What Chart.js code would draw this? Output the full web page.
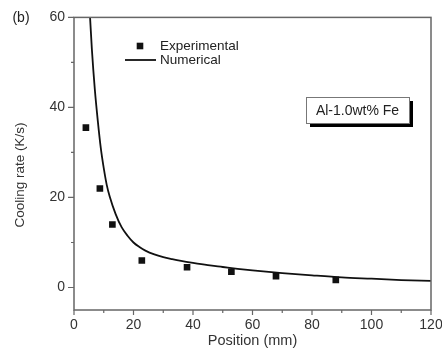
<!DOCTYPE html>
<html>
<head>
<meta charset="utf-8">
<script src="https://cdn.jsdelivr.net/npm/chart.js@4.4.1/dist/chart.umd.min.js"></script>
<style>
  html, body { margin: 0; padding: 0; background: #fff; }
  #wrap { width: 442px; height: 354px; position: relative; }
</style>
</head>
<body>
<div id="wrap"><canvas id="coolingChart"></canvas></div>
<script>
// measured cooling rate along the casting
const expPosition = [4, 8.7, 12.9, 22.8, 38, 52.9, 67.9, 88];
const expRate = [35.5, 22, 14, 6, 4.5, 3.5, 2.5, 1.7];

// simulated cooling rate
const numPosition = [5.4, 6, 7, 8, 9, 10, 11, 12, 14, 16, 18, 20, 22, 24, 27, 30, 33, 36, 40, 45, 50, 55, 60, 70, 80, 90, 100, 110, 120];
const numRate = [60, 53, 44, 37, 31, 26.5, 22.8, 20.2, 16.3, 13.4, 11.5, 10.0, 9.0, 8.2, 7.35, 6.75, 6.3, 5.9, 5.45, 4.95, 4.55, 4.15, 3.8, 3.2, 2.7, 2.25, 1.95, 1.65, 1.45];

const xTicks = [0, 20, 40, 60, 80, 100, 120];
const yTicks = [0, 20, 40, 60];

const FONT = "'Liberation Sans', Arial, sans-serif";

// axis frame, outward tick marks, legend, labels and the alloy tag
const decorations = {
    id: "decorations",
    afterDraw(chart) {
        const ctx = chart.ctx;
        const area = chart.chartArea;
        const xs = chart.scales.x;
        const ys = chart.scales.y;

        ctx.save();
        ctx.strokeStyle = "#666";
        ctx.lineWidth = 1.5;
        ctx.strokeRect(area.left, area.top, area.right - area.left, area.bottom - area.top);

        // ticks: major every 20, minor every 10
        ctx.lineWidth = 1.2;
        ctx.beginPath();
        for (let v = 0; v <= 120; v += 10) {
            const px = xs.getPixelForValue(v);
            const len = v % 20 === 0 ? 5 : 3;
            ctx.moveTo(px, area.bottom);
            ctx.lineTo(px, area.bottom + len);
        }
        for (let v = 0; v <= 60; v += 10) {
            const py = ys.getPixelForValue(v);
            const len = v % 20 === 0 ? 6 : 3;
            ctx.moveTo(area.left, py);
            ctx.lineTo(area.left - len, py);
        }
        ctx.stroke();

        // panel letter
        ctx.fillStyle = "#222";
        ctx.font = "14px " + FONT;
        ctx.textAlign = "center";
        ctx.textBaseline = "middle";
        ctx.fillText("(b)", 21, 18);

        // y axis title
        ctx.save();
        ctx.translate(20, 175);
        ctx.rotate(-Math.PI / 2);
        ctx.font = "13.5px " + FONT;
        ctx.fillStyle = "#333";
        ctx.fillText("Cooling rate (K/s)", 0, 0);
        ctx.restore();

        // legend
        ctx.fillStyle = "#111";
        ctx.fillRect(140 - 3.3, 46 - 3.3, 6.6, 6.6);
        ctx.strokeStyle = "#111";
        ctx.lineWidth = 1.8;
        ctx.beginPath();
        ctx.moveTo(125, 60);
        ctx.lineTo(156, 60);
        ctx.stroke();
        ctx.font = "13.5px " + FONT;
        ctx.fillStyle = "#222";
        ctx.textAlign = "left";
        ctx.fillText("Experimental", 160, 46);
        ctx.fillText("Numerical", 160, 60);

        // alloy tag with drop shadow
        const bx = 306, by = 97, bw = 103, bh = 26;
        ctx.fillStyle = "#000";
        ctx.fillRect(bx + 4, by + 4, bw, bh);
        ctx.fillStyle = "#fff";
        ctx.fillRect(bx, by, bw, bh);
        ctx.strokeStyle = "#777";
        ctx.lineWidth = 1;
        ctx.strokeRect(bx + 0.5, by + 0.5, bw, bh);
        ctx.fillStyle = "#222";
        ctx.font = "14px " + FONT;
        ctx.textAlign = "center";
        ctx.fillText("Al-1.0wt% Fe", bx + bw / 2, by + bh / 2 + 1);
        ctx.restore();
    }
};

document.addEventListener("DOMContentLoaded", function () {
    const canvas = document.getElementById("coolingChart");

    const expPoints = expPosition.map((x, i) => ({ x: x, y: expRate[i] }));
    const numPoints = numPosition.map((x, i) => ({ x: x, y: numRate[i] }));

    new Chart(canvas, {
        type: "scatter",
        data: {
            datasets: [{
                label: "Experimental",
                data: expPoints,
                pointStyle: "rect",
                pointRadius: 4.7,
                pointHoverRadius: 4.7,
                backgroundColor: "#111",
                borderColor: "#111",
                borderWidth: 0,
                order: 1
            }, {
                label: "Numerical",
                data: numPoints,
                showLine: true,
                pointRadius: 0,
                borderColor: "#111",
                borderWidth: 1.8,
                cubicInterpolationMode: "monotone",
                order: 2
            }]
        },
        options: {
            responsive: true,
            maintainAspectRatio: false,
            animation: false,
            layout: { padding: { top: 17, right: 11, left: 0, bottom: 0 } },
            plugins: {
                legend: { display: false },
                tooltip: { enabled: false }
            },
            scales: {
                x: {
                    type: "linear",
                    min: 0,
                    max: 120,
                    afterBuildTicks: s => { s.ticks = xTicks.map(v => ({ value: v })); },
                    afterFit: s => {
                        s.height = 44;
                        s.paddingLeft = 0;
                        s.paddingRight = 0;
                    },
                    grid: { display: false, drawTicks: false },
                    border: { display: false },
                    ticks: {
                        padding: 7,
                        color: "#333",
                        font: { family: FONT, size: 14 },
                        maxRotation: 0
                    },
                    title: {
                        display: true,
                        text: "Position (mm)",
                        color: "#333",
                        font: { family: FONT, size: 14.5 },
                        padding: { top: 0, bottom: 4 }
                    }
                },
                y: {
                    type: "linear",
                    min: -5,
                    max: 60,
                    afterBuildTicks: s => { s.ticks = yTicks.map(v => ({ value: v })); },
                    afterFit: s => { s.width = 74; },
                    grid: { display: false, drawTicks: false },
                    border: { display: false },
                    ticks: {
                        padding: 9,
                        color: "#333",
                        font: { family: FONT, size: 14 }
                    }
                }
            }
        },
        plugins: [decorations]
    });
});
</script>
</body>
</html>
